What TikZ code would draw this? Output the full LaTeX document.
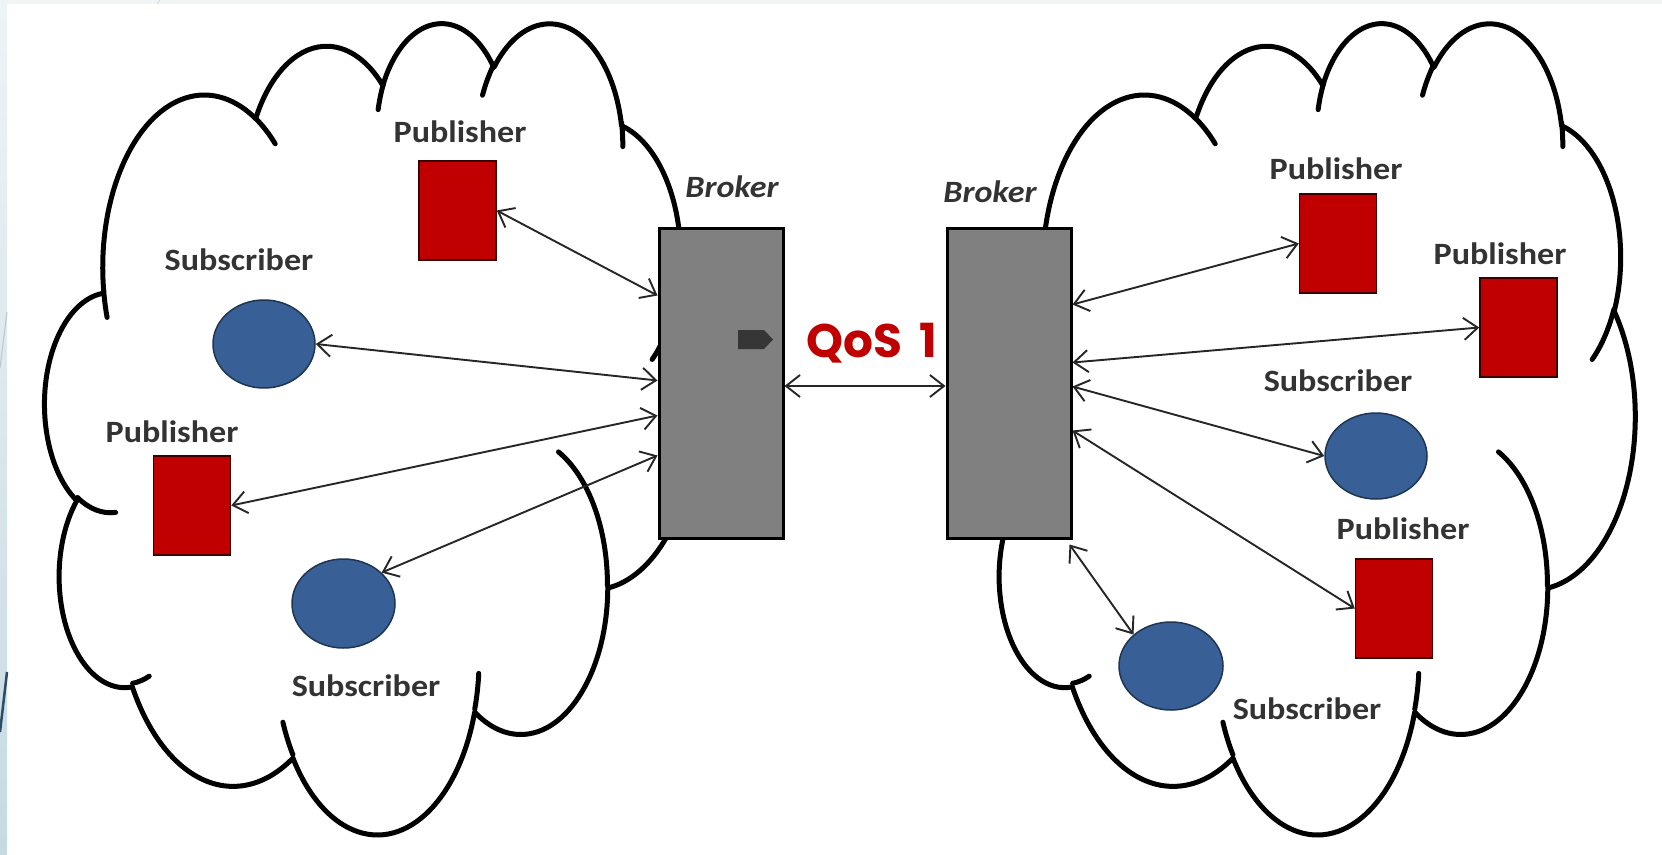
\documentclass[tikz,border=0pt]{standalone}
\usepackage{fontspec}
\setmainfont{Carlito}
\newfontfamily\lab[FakeStretch=1.1]{Carlito}
\newfontfamily\qos{Poppins}
\usetikzlibrary{arrows.meta,shapes.geometric}
\definecolor{pubred}{HTML}{C00000}
\definecolor{subblue}{HTML}{386096}
\definecolor{brokergray}{HTML}{808080}
\definecolor{txt}{HTML}{333333}
\definecolor{stripA}{HTML}{EEF4F6}
\definecolor{stripB}{HTML}{C6DAE2}
\definecolor{topstrip}{HTML}{F1F5F6}
\definecolor{navy}{HTML}{2B4C6A}
\definecolor{tagdark}{HTML}{363636}
\tikzset{
  oarc/.code args={#1/#2/#3/#4}{%
    \pgfmathsetmacro\oarcA{atan2((#1)*sin(#3),(#2)*cos(#3))}%
    \pgfmathsetmacro\oarcB{atan2((#1)*sin((#3)+(#4)),(#2)*cos((#3)+(#4)))}%
    \pgfmathsetmacro\oarcB{\oarcA+mod(\oarcB-\oarcA+720,360)}%
    \edef\oarcC{\noexpand\pgfkeysalso{x radius=#1,y radius=#2,start angle=\oarcA,end angle=\oarcB}}\oarcC},
  cloudline/.style={line width=5pt, line join=round, line cap=round},
  broker/.style={draw=black, line width=3pt, fill=brokergray, minimum width=124pt, minimum height=310pt, inner sep=0pt},
  pub/.style={draw=black!70!pubred, line width=1.5pt, fill=pubred, minimum width=77pt, minimum height=99pt, inner sep=0pt},
  sub/.style={ellipse, draw=subblue!55!black, line width=1.5pt, fill=subblue, inner sep=0pt},
  lbl/.style={text=txt, font=\lab\bfseries\fontsize{31}{37}\selectfont, anchor=base, inner sep=0pt},
  brk/.style={text=txt, font=\lab\bfseries\itshape\fontsize{31}{37}\selectfont, anchor=base, inner sep=0pt},
  conn/.style={draw=black!85, line width=1.9pt, {Straight Barb[length=14pt,width=22pt]}-{Straight Barb[length=14pt,width=22pt]}},
}
\newcommand\drawcloud[1]{%
\begin{scope}[shift={(#1,21)}, x=1.50463pt, y=-1.87731pt]
 \draw[cloudline, fill=white] (39.00,143.70)
   arc[oarc=67.53/91.90/-190.4875/123.7805]
   arc[oarc=53.33/72.67/-144.1024/89.9452]
   arc[oarc=43.65/59.45/-145.8079/99.7230]
   arc[oarc=48.57/65.95/-130.9861/117.2417]
   arc[oarc=53.33/72.73/-78.7089/109.0269]
   arc[oarc=67.75/92.20/-46.2673/130.2690]
   arc[oarc=57.85/78.67/0.6250/114.0333]
   arc[oarc=67.52/92.15/22.4516/115.1726]
   arc[oarc=77.20/105.43/66.2426/75.7110]
   arc[oarc=43.60/59.18/-274.9421/146.7356]
   arc[oarc=43.45/59.45/-246.8285/152.5189]
   -- cycle;
 \draw[cloudline]
   (46.93,261.77) arc[oarc=43.45/59.45/86.7420/26.4295]
   (69.28,348.99) arc[oarc=43.60/59.18/73.6105/11.4475]
   (164.78,390.90) arc[oarc=67.52/92.15/137.6242/14.0811]
   (288.27,347.51) arc[oarc=67.52/92.15/6.4533/15.9984]
   (341.29,229.54) arc[oarc=57.85/78.67/-70.2924/70.9174]
   (417.98,153.54) arc[oarc=53.33/72.73/30.3180/27.7515]
   (383.24,54.26) arc[oarc=48.57/65.95/-13.7443/14.8589]
   (290.78,39.52) arc[oarc=48.57/65.95/-149.1815/18.1954]
   (221.41,47.20) arc[oarc=43.65/59.45/-163.4943/17.6864]
   (140.00,51.92) arc[oarc=67.53/91.90/-66.7070/12.3194]
   (41.27,157.89) arc[oarc=67.53/91.90/157.6544/11.8582];
\end{scope}}
\begin{document}
\begin{tikzpicture}[x=1pt,y=-1pt]
% background
\fill[white] (0,0) rectangle (1662,854);
\useasboundingbox (0,0) rectangle (1662,854);
\fill[topstrip] (0,0) rectangle (1662,4);
\shade[top color=stripA, bottom color=stripB] (0,0) rectangle (7,854);
\draw[stripB!80!gray, line width=1pt] (7,312) -- (0,368);
\draw[navy, line width=2.5pt] (7,672) -- (0,732);
\draw[stripB, line width=0.8pt] (160,0) -- (157,4);
% clouds
\drawcloud{45}
\drawcloud{985}
% brokers
\node[broker] (bL) at (721,383) {};
\node[broker] (bR) at (1009,383) {};
\fill[tagdark] (738,330) -- (764,330) -- (773,339.5) -- (764,349) -- (738,349) -- cycle;
\node[brk] (kL) at (732,197) {Broker};
\node[brk] (kR) at (990,202) {Broker};
\node[text=pubred, font=\qos\bfseries\fontsize{47}{56}\selectfont, anchor=base, inner sep=0pt] (qos) at (872,357) {QoS\hspace{0.36em}1};
% left cloud elements
\node[pub] (lp1) at (457.5,210.5) {};
\node[sub, minimum width=102pt, minimum height=88pt] (ls1) at (264,344) {};
\node[pub] (lp2) at (192,505.5) {};
\node[sub, minimum width=103pt, minimum height=89pt] (ls2) at (343.5,603.5) {};
% right cloud elements
\node[pub] (rp1) at (1338,243.5) {};
\node[pub] (rp2) at (1518.5,327.5) {};
\node[sub, minimum width=102pt, minimum height=86pt] (rs1) at (1376,456) {};
\node[pub] (rp3) at (1394,608.5) {};
\node[sub, minimum width=104pt, minimum height=88pt] (rs2) at (1171,666) {};
% labels
\node[lbl] (tL1) at (460,142) {Publisher};
\node[lbl] (tL2) at (239,270) {Subscriber};
\node[lbl] (tL3) at (172,442) {Publisher};
\node[lbl] (tL4) at (366,696) {Subscriber};
\node[lbl] (tR1) at (1336,179) {Publisher};
\node[lbl] (tR2) at (1500,264) {Publisher};
\node[lbl] (tR3) at (1338,391) {Subscriber};
\node[lbl] (tR4) at (1403,539) {Publisher};
\node[lbl] (tR5) at (1307,719) {Subscriber};
% connectors
\draw[conn] (lp1.east) -- ([yshift=-69pt]bL.north west);
\draw[conn] (ls1.east) -- ([yshift=-154pt]bL.north west);
\draw[conn] (lp2.east) -- ([yshift=-189pt]bL.north west);
\draw[conn] (ls2.39) -- ([yshift=-229pt]bL.north west);
\draw[conn] ([yshift=-3pt]bL.east) -- ([yshift=-3pt]bR.west);
\draw[conn] ([yshift=-78pt]bR.north east) -- (rp1.west);
\draw[conn] ([yshift=-136pt]bR.north east) -- (rp2.west);
\draw[conn] ([yshift=-160pt]bR.north east) -- (rs1.west);
\draw[conn] ([yshift=-204pt]bR.north east) -- (rp3.west);
\draw[conn] ([xshift=-3pt,yshift=-5pt]bR.south east) -- (rs2.140);
\end{tikzpicture}
\end{document}
